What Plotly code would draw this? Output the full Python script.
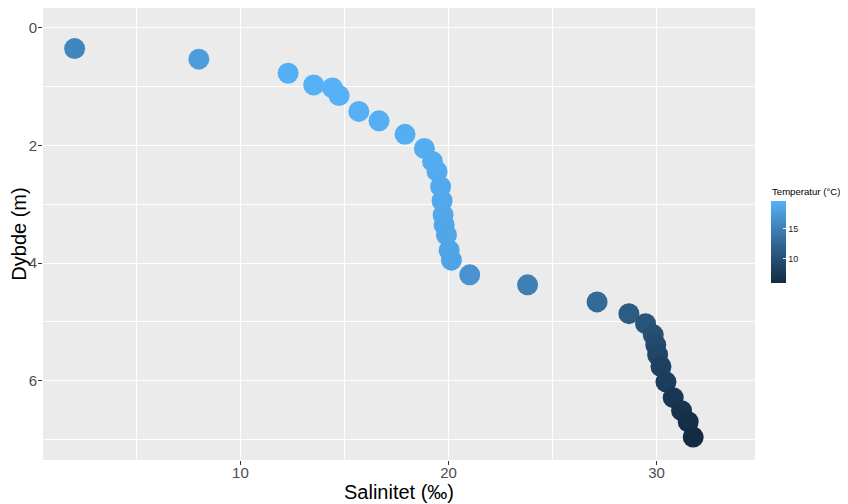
import plotly.graph_objects as go

# Data
salinitet = [2.03, 8.0, 12.29, 13.52, 14.42, 14.74, 15.69, 16.66, 17.91, 18.84,
             19.23, 19.45, 19.62, 19.69, 19.74, 19.79, 19.90, 20.03, 20.14, 21.02,
             23.80, 27.14, 28.67, 29.47, 29.84, 29.96, 30.05, 30.21, 30.45, 30.80,
             31.20, 31.52, 31.76]
dybde = [0.35, 0.53, 0.77, 0.97, 1.02, 1.15, 1.42, 1.58, 1.81, 2.05,
         2.27, 2.44, 2.70, 2.94, 3.18, 3.35, 3.52, 3.78, 3.95, 4.20,
         4.37, 4.66, 4.86, 5.03, 5.22, 5.39, 5.56, 5.76, 6.02, 6.29,
         6.51, 6.70, 6.96]
temperatur = [15.5, 17.8, 19.4, 19.5, 19.6, 19.6, 19.5, 19.4, 19.3, 19.2,
              19.1, 19.0, 18.9, 18.8, 18.8, 18.7, 18.6, 18.5, 18.4, 16.8,
              14.9, 12.8, 11.3, 10.5, 10.0, 9.5, 9.0, 8.5, 8.0, 7.4,
              6.9, 6.4, 6.0]
x_ticks = [10, 20, 30]
y_ticks = [0, 2, 4, 6]
cbar_ticks = [10, 15]


# ggplot2-like gradient (#132B43 -> #56B1F7) interpolated in Lab space
def srgb_to_lin(c):
    c = c / 255.0
    return c / 12.92 if c <= 0.04045 else ((c + 0.055) / 1.055) ** 2.4


def lin_to_srgb(c):
    c = max(0.0, min(1.0, c))
    v = 12.92 * c if c <= 0.0031308 else 1.055 * c ** (1 / 2.4) - 0.055
    return int(round(v * 255))


def hex_to_lab(h):
    r, g, b = (srgb_to_lin(int(h[i:i + 2], 16)) for i in (1, 3, 5))
    X = (0.4124 * r + 0.3576 * g + 0.1805 * b) / 0.95047
    Y = (0.2126 * r + 0.7152 * g + 0.0722 * b) / 1.0
    Z = (0.0193 * r + 0.1192 * g + 0.9505 * b) / 1.08883

    def f(t):
        return t ** (1 / 3) if t > 0.008856 else 7.787 * t + 16 / 116
    fx, fy, fz = f(X), f(Y), f(Z)
    return 116 * fy - 16, 500 * (fx - fy), 200 * (fy - fz)


def lab_to_hex(L, a, b):
    fy = (L + 16) / 116
    fx = fy + a / 500
    fz = fy - b / 200

    def finv(t):
        return t ** 3 if t ** 3 > 0.008856 else (t - 16 / 116) / 7.787
    X, Y, Z = finv(fx) * 0.95047, finv(fy), finv(fz) * 1.08883
    r = 3.2406 * X - 1.5372 * Y - 0.4986 * Z
    g = -0.9689 * X + 1.8758 * Y + 0.0415 * Z
    bb = 0.0557 * X - 0.2040 * Y + 1.0570 * Z
    return "#%02x%02x%02x" % (lin_to_srgb(r), lin_to_srgb(g), lin_to_srgb(bb))


lo, hi = hex_to_lab("#132B43"), hex_to_lab("#56B1F7")
n = 11
colorscale = []
for i in range(n):
    t = i / (n - 1)
    colorscale.append([t, lab_to_hex(*(lo[k] + t * (hi[k] - lo[k]) for k in range(3)))])

font_family = "Liberation Sans, Arial, sans-serif"

# The page places the figure 8 px in from the top-left corner (body margin),
# so the figure is 8 px smaller and all positions are offset by 8 px.
OFF = 8
W, H = 848 - OFF, 504 - OFF
ML, MR, MT, MB = 43 - OFF, 93, 8 - OFF, 44
plot_w = W - ML - MR
plot_h = H - MT - MB

fig = go.Figure(go.Scatter(
    x=salinitet, y=dybde, mode="markers",
    marker=dict(
        size=21, color=temperatur, colorscale=colorscale,
        cmin=min(temperatur), cmax=max(temperatur),
        line=dict(width=0), opacity=1,
        colorbar=dict(
            xref="container", x=(770.5 - OFF) / W, xanchor="left",
            yref="container", y=1 - (264.5 - OFF) / H, yanchor="middle",
            lenmode="pixels", len=82, thickness=15,
            outlinewidth=0, tickvals=cbar_ticks,
            ticks="inside", ticklen=3, tickcolor="white", tickwidth=1,
            tickfont=dict(size=9, color="#1a1a1a", family=font_family),
            xpad=0, ypad=0,
        ),
    ),
    showlegend=False,
    hoverinfo="x+y",
))

fig.add_annotation(
    text="Temperatur (°C)", xref="paper", yref="paper",
    x=(769.5 - OFF - ML) / plot_w, y=1 - (191.5 - OFF - MT) / plot_h,
    xanchor="left", yanchor="middle", showarrow=False,
    font=dict(size=9.6, color="#000000", family=font_family),
)

fig.update_layout(
    width=W, height=H,
    margin=dict(l=ML, r=MR, t=MT, b=MB, pad=0),
    paper_bgcolor="white", plot_bgcolor="#EBEBEB",
    font=dict(family=font_family),
    xaxis=dict(
        range=[0.51, 34.73], tickvals=x_ticks, automargin=False,
        showgrid=True, gridcolor="white", gridwidth=1.1,
        minor=dict(dtick=5, tick0=0, showgrid=True, gridcolor="white", gridwidth=0.55),
        zeroline=False, showline=False,
        ticks="outside", ticklen=4, tickcolor="#333333", tickwidth=1,
        ticklabelstandoff=-5,
        tickfont=dict(size=15, color="#4D4D4D"),
        title=dict(text="Salinitet (‰)", font=dict(size=20, color="#000000"), standoff=4),
    ),
    yaxis=dict(
        range=[7.35, -0.34], tickvals=y_ticks, automargin=False,
        showgrid=True, gridcolor="white", gridwidth=1.1,
        minor=dict(dtick=1, tick0=0, showgrid=True, gridcolor="white", gridwidth=0.55),
        zeroline=False, showline=False,
        ticks="outside", ticklen=4, tickcolor="#333333", tickwidth=1,
        ticklabelstandoff=-2,
        tickfont=dict(size=15, color="#4D4D4D"),
        title=dict(text="Dybde (m)", font=dict(size=20, color="#000000"), standoff=0),
    ),
)

fig.write_html("out.html")
